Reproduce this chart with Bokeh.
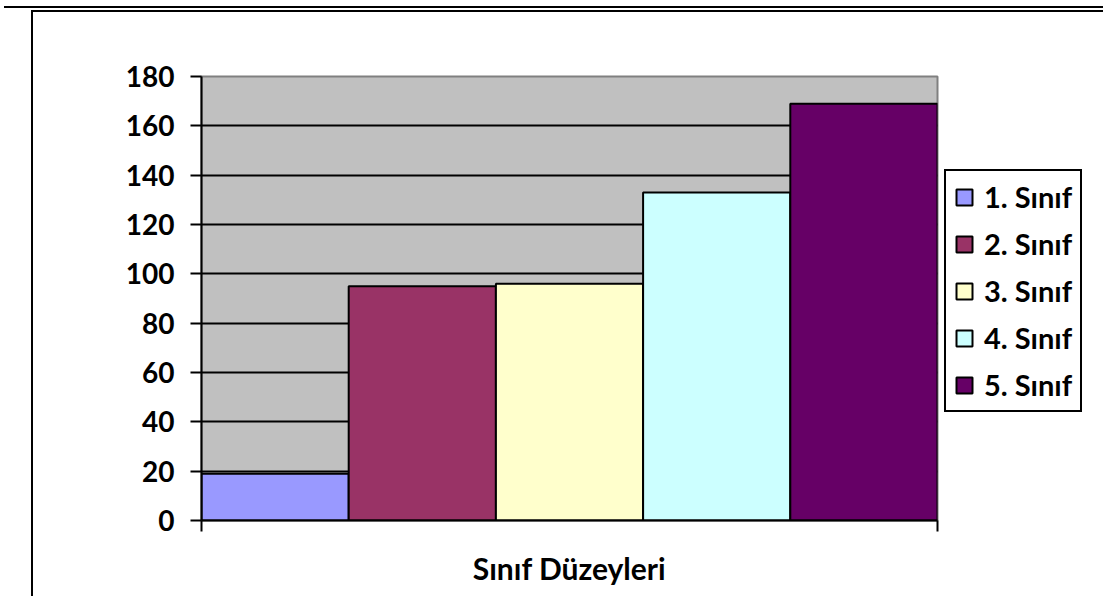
from bokeh.plotting import figure
from bokeh.models import (Range1d, FixedTicker, Legend, LegendItem,
                          ColumnDataSource, InlineStyleSheet)
from bokeh.embed import file_html
from bokeh.resources import INLINE

# ---- data ----
categories = ["1. Sınıf", "2. Sınıf", "3. Sınıf", "4. Sınıf", "5. Sınıf"]
values = [19, 95, 96, 133, 169]
colors = ["#9999FF", "#993366", "#FFFFCC", "#CCFFFF", "#660066"]
y_ticks = [0, 20, 40, 60, 80, 100, 120, 140, 160, 180]
x_title = "Sınıf Düzeyleri"

FONT = "Lato"

frame_css = InlineStyleSheet(css="""
:host {
  background:
    linear-gradient(#000, #000) 4px 6px / calc(100% - 4px) 2px no-repeat,
    linear-gradient(#000, #000) 31px 10px / calc(100% - 31px) 2px no-repeat,
    linear-gradient(#000, #000) 31px 10px / 2px calc(100% - 10px) no-repeat,
    #ffffff;
}
""")

p = figure(frame_width=736, frame_height=444, output_backend="svg",
           toolbar_location=None,
           x_range=Range1d(0, len(categories)), y_range=Range1d(0, 180),
           min_border_left=201, min_border_right=150, min_border_top=76,
           min_border_bottom=76, stylesheets=[frame_css])

p.background_fill_color = "#C0C0C0"
p.border_fill_color = None
p.outline_line_color = "#808080"
p.outline_line_width = 2

# grid
p.xgrid.visible = False
p.ygrid.ticker = FixedTicker(ticks=y_ticks[1:-1])
p.ygrid.grid_line_color = "black"
p.ygrid.grid_line_width = 2

# bars
items = []
for i, (cat, v, c) in enumerate(zip(categories, values, colors)):
    src = ColumnDataSource(dict(x=[i + 0.5], top=[v]))
    r = p.vbar(x="x", top="top", width=1, bottom=0, source=src,
               fill_color=c, line_color="black", line_width=2)
    items.append(LegendItem(label=cat, renderers=[r]))

# y axis
ya = p.yaxis[0]
ya.ticker = FixedTicker(ticks=y_ticks)
ya.axis_line_color = "black"
ya.axis_line_width = 2
ya.major_tick_line_width = 2
ya.major_tick_out = 11
ya.major_tick_in = 0
ya.minor_tick_line_color = None
ya.major_label_standoff = 16
ya.major_label_text_font = FONT
ya.major_label_text_font_style = "bold"
ya.major_label_text_font_size = "28px"
ya.major_label_text_color = "black"

# x axis
xa = p.xaxis[0]
xa.ticker = FixedTicker(ticks=[0, len(categories)])
xa.major_label_overrides = {0: "", len(categories): ""}
xa.major_label_text_font_size = "1px"
xa.axis_line_color = "black"
xa.axis_line_width = 2
xa.major_tick_line_width = 2
xa.major_tick_out = 11
xa.major_tick_in = 0
xa.minor_tick_line_color = None
xa.axis_label = x_title
xa.axis_label_text_font = FONT
xa.axis_label_text_font_style = "bold"
xa.axis_label_text_font_size = "30px"
xa.axis_label_standoff = 18
xa.axis_label_text_color = "black"

# legend
legend = Legend(items=items, location=(7, 108))
legend.label_text_font = FONT
legend.label_text_font_style = "bold"
legend.label_text_font_size = "29px"
legend.label_text_color = "black"
legend.glyph_width = 20
legend.glyph_height = 20
legend.label_height = 28
legend.spacing = 12
legend.padding = 8
legend.margin = 0
legend.label_standoff = 10
legend.border_line_color = "black"
legend.border_line_alpha = 1
legend.border_line_width = 2
legend.background_fill_color = "white"
legend.background_fill_alpha = 1
p.add_layout(legend, "right")

open("out.html", "w").write(file_html(p, INLINE))
